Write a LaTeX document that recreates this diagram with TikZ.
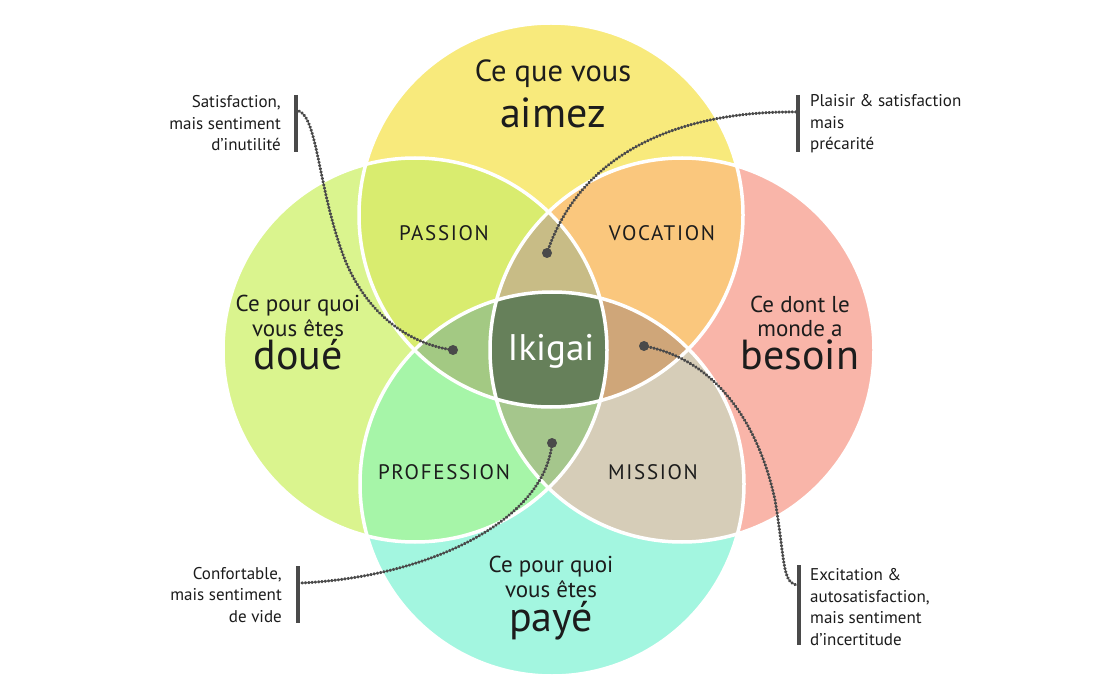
\documentclass[tikz,border=0pt]{standalone}
\usepackage{fontspec}
\setmainfont{PT Sans}
\definecolor{cT}{HTML}{F8EA7C}
\definecolor{cL}{HTML}{DAF48E}
\definecolor{cR}{HTML}{F9B5A9}
\definecolor{cB}{HTML}{A3F6E0}
\definecolor{cPas}{HTML}{D9EC6F}
\definecolor{cVoc}{HTML}{FAC77D}
\definecolor{cPro}{HTML}{A6F5A8}
\definecolor{cMis}{HTML}{D6CDB8}
\definecolor{cLT}{HTML}{C8BC86}
\definecolor{cLL}{HTML}{A3C983}
\definecolor{cLR}{HTML}{CFA679}
\definecolor{cLB}{HTML}{A5C68C}
\definecolor{cC}{HTML}{66805A}
\definecolor{ink}{HTML}{1C1C1C}
\definecolor{gline}{HTML}{4A4A4A}
\newcommand{\bigword}[1]{{\fontsize{42}{46}\selectfont #1}}
\begin{document}
\begin{tikzpicture}[x=1pt,y=-1pt,
  lbl/.style={anchor=base,inner sep=0pt,text=ink},
  small/.style={lbl,align=center,font=\fontsize{23}{24.5}\selectfont},
  topsmall/.style={lbl,align=center,font=\fontsize{30.5}{31}\selectfont},
  zone/.style={lbl,font=\fontsize{21}{23}\selectfont\addfontfeature{LetterSpace=8}},
  note/.style={inner sep=0pt,text=ink,font=\fontsize{17}{21.5}\selectfont},
  bar/.style={line width=4pt,gline},
  chain/.style={gline,line width=3pt,line cap=round,dash pattern=on 0.7pt off 2.6pt},
  enddot/.style={fill=gline}]
\useasboundingbox (0,0) rectangle (1100,700);
\fill[white] (0,0) rectangle (1100,700);
\def\rad{192pt}
\coordinate (T) at (551,215);
\coordinate (L) at (415,350);
\coordinate (R) at (682,350);
\coordinate (B) at (552,484);
% base circles
\fill[cT] (T) circle[radius=\rad];
\fill[cL] (L) circle[radius=\rad];
\fill[cR] (R) circle[radius=\rad];
\fill[cB] (B) circle[radius=\rad];
% pairwise
\begin{scope}\clip (T) circle[radius=\rad]; \fill[cPas] (L) circle[radius=\rad]; \end{scope}
\begin{scope}\clip (T) circle[radius=\rad]; \fill[cVoc] (R) circle[radius=\rad]; \end{scope}
\begin{scope}\clip (B) circle[radius=\rad]; \fill[cPro] (L) circle[radius=\rad]; \end{scope}
\begin{scope}\clip (B) circle[radius=\rad]; \fill[cMis] (R) circle[radius=\rad]; \end{scope}
% triples
\begin{scope}\clip (L) circle[radius=\rad]; \clip (R) circle[radius=\rad]; \fill[cLT] (T) circle[radius=\rad]; \fill[cLB] (B) circle[radius=\rad]; \end{scope}
\begin{scope}\clip (T) circle[radius=\rad]; \clip (B) circle[radius=\rad]; \fill[cLL] (L) circle[radius=\rad]; \fill[cLR] (R) circle[radius=\rad]; \end{scope}
% quad
\begin{scope}\clip (T) circle[radius=\rad]; \clip (B) circle[radius=\rad]; \clip (L) circle[radius=\rad]; \fill[cC] (R) circle[radius=\rad]; \end{scope}
% white borders
\foreach \c in {T,L,R,B} \draw[white,line width=3.5pt] (\c) circle[radius=\rad];

% main labels (base anchor = last line baseline)
\node[topsmall] (ttop) at (553,128) {Ce que vous\\[10pt]\bigword{aimez}};
\node[small] (tleft) at (298,370) {Ce pour quoi\\vous êtes\\[2pt]\bigword{doué}};
\node[small] (tright) at (800,370) {Ce dont le\\monde a\\[2pt]\bigword{besoin}};
\node[small] (tbot) at (551,631) {Ce pour quoi\\vous êtes\\[2pt]\bigword{payé}};
\node[zone] (pas) at (444,241) {PASSION};
\node[zone] (voc) at (662,241) {VOCATION};
\node[zone] (pro) at (444,479) {PROFESSION};
\node[zone] (mis) at (653,479) {MISSION};
\node[lbl,text=white,font=\fontsize{37}{40}\selectfont] (iki) at (551,360) {Ikigai};

% callouts
\node[note,align=right,anchor=base east] (ntl) at (281,151) {Satisfaction,\\mais sentiment\\d’inutilité};
\node[note,align=left,anchor=base west] (ntr) at (810,150) {Plaisir \& satisfaction\\mais\\précarité};
\node[note,align=right,anchor=base east] (nbl) at (282,622) {Confortable,\\mais sentiment\\de vide};
\node[note,align=left,anchor=base west] (nbr) at (810,645) {Excitation \&\\autosatisfaction,\\mais sentiment\\d’incertitude};

\coordinate (tlA) at (296,95);  \coordinate (tlB) at (296,152);
\coordinate (trA) at (798,95);  \coordinate (trB) at (798,152);
\coordinate (blA) at (298,566); \coordinate (blB) at (298,623);
\coordinate (brA) at (799,565); \coordinate (brB) at (799,645);
\draw[bar] (tlA) -- (tlB);
\draw[bar] (trA) -- (trB);
\draw[bar] (blA) -- (blB);
\draw[bar] (brA) -- (brB);

\coordinate (tlS) at (299,111); \coordinate (tlD) at (453,350);
\coordinate (trS) at (796,112); \coordinate (trD) at (547,253);
\coordinate (blS) at (301,583); \coordinate (blD) at (552,443);
\coordinate (brS) at (796,585); \coordinate (brD) at (644,346);
\draw[chain] (tlS) .. controls (318,119) and (318,190) .. (345,260) .. controls (370,320) and (415,345) .. (tlD);
\draw[chain] (trS) .. controls (700,111) and (585,140) .. (trD);
\draw[chain] (blD) .. controls (545,520) and (430,577) .. (blS);
\draw[chain] (brD) .. controls (720,360) and (760,430) .. (775,500) .. controls (785,560) and (782,581) .. (brS);
\foreach \d in {tlD,trD,blD,brD} \fill[enddot] (\d) circle[radius=5pt];
\end{tikzpicture}
\end{document}
